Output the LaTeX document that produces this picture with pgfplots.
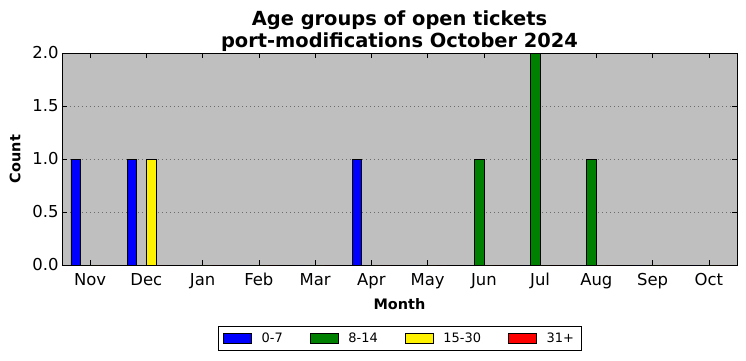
\documentclass[border=0pt]{standalone}
\usepackage{fontspec}
\setmainfont{DejaVu Sans}
\usepackage{pgfplots}
\pgfplotsset{compat=1.18}
\definecolor{bgGray}{HTML}{BFBFBF}
\definecolor{mplgreen}{RGB}{0,128,0}
\begin{document}
\begin{tikzpicture}
\begin{axis}[
  scale only axis, width=675bp, height=212bp,
  xmin=-0.5, xmax=11.5, ymin=0, ymax=2,
  xtick={0,1,2,3,4,5,6,7,8,9,10,11},
  xticklabels={Nov,Dec,Jan,Feb,Mar,Apr,May,Jun,Jul,Aug,Sep,Oct},
  ytick={0,0.5,1,1.5,2},
  /pgf/number format/assume math mode=true,
  yticklabel style={/pgf/number format/.cd, fixed, fixed zerofill, precision=1},
  xticklabel style={yshift=-4bp, text height=12.5bp, text depth=4bp},
  tick align=inside, major tick length=5bp,
  tick style={black, line width=0.6bp},
  axis line style={black, line width=0.8bp},
  axis background/.style={fill=bgGray},
  ymajorgrids, grid style={dash pattern=on 1bp off 3bp, gray!85!black, line width=0.5bp},
  ticklabel style={font=\fontsize{16.5}{18}\selectfont},
  title={Age groups of open tickets\\port-modifications October 2024},
  title style={align=center, font=\fontsize{19.5}{22.5}\selectfont\bfseries, yshift=-8bp},
  xlabel={Month}, ylabel={Count},
  label style={font=\fontsize{14.5}{17}\selectfont\bfseries},
  xlabel style={yshift=-3bp},
  ylabel style={yshift=5bp},
  legend style={at={(0.5,-0.288)}, anchor=north, legend columns=4, draw=black, line width=0.6bp,
    font=\fontsize{13}{15}\selectfont, inner xsep=5bp, inner ysep=4.5bp,
    /tikz/every odd column/.append style={column sep=8bp},
    /tikz/every even column/.append style={column sep=25bp}},
  legend image code/.code={\draw[#1, draw=black, line width=0.6bp] (0bp,-5bp) rectangle (28bp,5bp);},
  every axis plot/.append style={ybar, bar width=0.17, draw=black, line width=0.7bp},
]
\addplot[fill=blue, bar shift=-0.255] coordinates {(0,1) (1,1) (2,0) (3,0) (4,0) (5,1) (6,0) (7,0) (8,0) (9,0) (10,0) (11,0)};
\addplot[fill=mplgreen, bar shift=-0.085] coordinates {(0,0) (1,0) (2,0) (3,0) (4,0) (5,0) (6,0) (7,1) (8,2) (9,1) (10,0) (11,0)};
\addplot[fill=yellow, bar shift=0.085] coordinates {(0,0) (1,1) (2,0) (3,0) (4,0) (5,0) (6,0) (7,0) (8,0) (9,0) (10,0) (11,0)};
\addplot[fill=red, bar shift=0.255] coordinates {(0,0) (1,0) (2,0) (3,0) (4,0) (5,0) (6,0) (7,0) (8,0) (9,0) (10,0) (11,0)};
\legend{0-7, 8-14, 15-30, 31+}
\end{axis}
\pgfresetboundingbox
\path[use as bounding box] ([xshift=-62bp,yshift=-96bp]current axis.south west) rectangle ([xshift=9bp,yshift=53bp]current axis.north east);
\end{tikzpicture}
\end{document}
